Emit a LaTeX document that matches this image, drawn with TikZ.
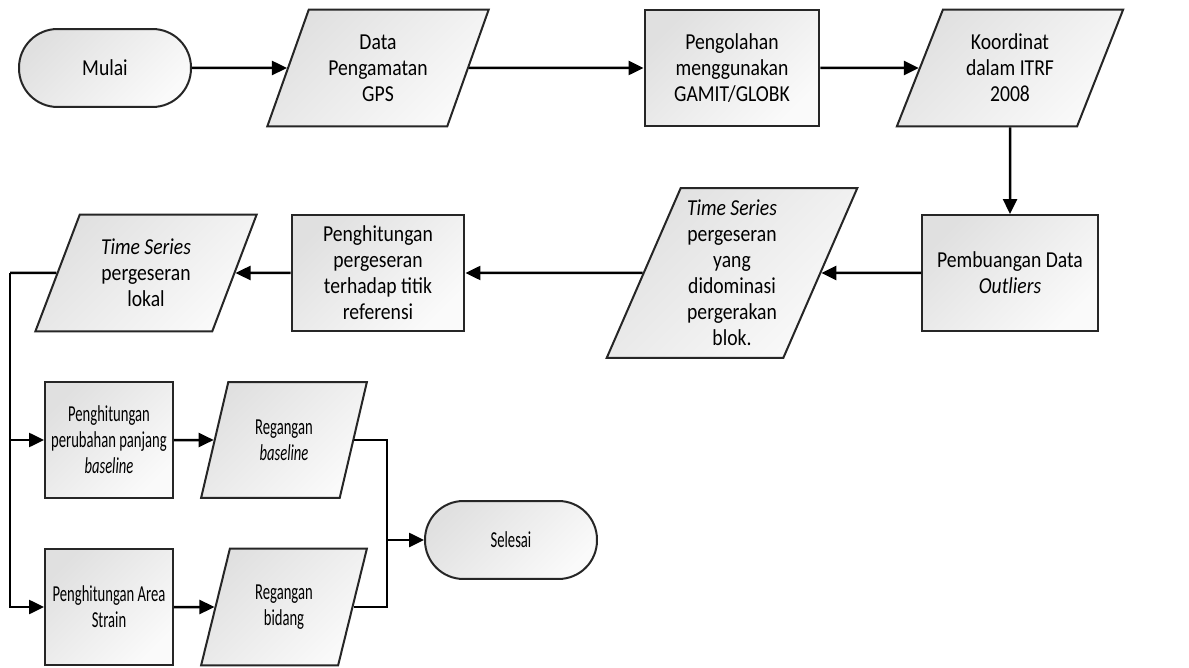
\documentclass[tikz,border=0pt]{standalone}
\usepackage{fontspec}
\setmainfont[FakeStretch=0.86]{Carlito}
\newfontfamily\sempit[FakeStretch=0.64]{Carlito}
\usepackage{tikz}
\usetikzlibrary{shapes.geometric, arrows.meta}
\tikzset{myShade/.style={draw=black!85, line width=0.4mm, top color=gray!24, bottom color=gray!4, shading angle=45}}
\tikzset{myProc/.style={myShade, rectangle, inner sep=0pt, align=center}}
\tikzset{myData/.style={myShade, trapezium, trapezium left angle=66, trapezium right angle=114, trapezium stretches=true, inner sep=0pt, align=center}}
\tikzset{myTerm/.style={myShade, rectangle, rounded corners=0.77cm, minimum width=3.44cm, minimum height=1.56cm, inner sep=0pt, align=center}}
\tikzset{myNarrow/.style={font=\fontsize{13}{14.8}\sempit}}
\tikzset{myLine/.style={line width=0.5mm, color=black, >={Triangle[length=0.3cm, width=0.28cm]}}}

\begin{document}
\begin{tikzpicture}[x=0.02cm, y=-0.02cm, font=\fontsize{13}{14.8}\selectfont]

	\useasboundingbox (0,0) rectangle (1189,668);

	% baris atas
	\node[myTerm] (mulai) at (105,68) {Mulai};
	\node[myData, minimum width=4.46cm, minimum height=2.34cm] (gps) at (378,68) {Data\\Pengamatan\\GPS};
	\node[myProc, minimum width=3.5cm, minimum height=2.34cm] (olah) at (732,68) {Pengolahan\\menggunakan\\GAMIT/GLOBK};
	\node[myData, minimum width=4.54cm, minimum height=2.34cm] (itrf) at (1010,68) {Koordinat\\dalam ITRF\\2008};

	% baris tengah
	\node[myProc, minimum width=3.52cm, minimum height=2.32cm] (buang) at (1010,273) {Pembuangan Data\\\textit{Outliers}};
	\node[myData, minimum width=5.02cm, minimum height=3.4cm] (tsBlok) at (732,273) {\textit{Time Series}\\pergeseran\\yang\\didominasi\\pergerakan\\blok.};
	\node[myProc, minimum width=3.46cm, minimum height=2.34cm] (hitGeser) at (378,273) {Penghitungan\\pergeseran\\terhadap titik\\referensi};
	\node[myData, minimum width=4.46cm, minimum height=2.34cm] (tsLokal) at (146,273) {\textit{Time Series}\\pergeseran\\lokal};

	% baris bawah
	\node[myProc, myNarrow, minimum width=2.56cm, minimum height=2.32cm] (hitBase) at (109,440) {Penghitungan\\perubahan panjang\\\textit{baseline}};
	\node[myData, myNarrow, trapezium left angle=71, trapezium right angle=109, minimum width=3.32cm, minimum height=2.32cm] (regBase) at (284,440) {Regangan\\\textit{baseline}};
	\node[myProc, myNarrow, minimum width=2.56cm, minimum height=2.34cm] (hitArea) at (109,607) {Penghitungan Area\\Strain};
	\node[myData, myNarrow, trapezium left angle=71, trapezium right angle=109, minimum width=3.32cm, minimum height=2.34cm] (regBid) at (284,607) {Regangan\\bidang};
	\node[myTerm, myNarrow] (selesai) at (511,540) {Selesai};

	\coordinate (bus) at (10,273);
	\coordinate (join) at (387,540);

	\draw[myLine, ->] (mulai) -- (gps);
	\draw[myLine, ->] (gps) -- (olah);
	\draw[myLine, ->] (olah) -- (itrf);
	\draw[myLine, ->] (itrf) -- (buang);
	\draw[myLine, ->] (buang) -- (tsBlok);
	\draw[myLine, ->] (tsBlok) -- (hitGeser);
	\draw[myLine, ->] (hitGeser) -- (tsLokal);
	\draw[myLine] (tsLokal) -- (bus);
	\draw[myLine, ->] (bus) |- (hitBase);
	\draw[myLine, ->] (bus) |- (hitArea);
	\draw[myLine, ->] (hitBase) -- (regBase);
	\draw[myLine, ->] (hitArea) -- (regBid);
	\draw[myLine] (regBase) -| (join);
	\draw[myLine] (regBid) -| (join);
	\draw[myLine, ->] (join) -- (selesai);
\end{tikzpicture}
\end{document}
